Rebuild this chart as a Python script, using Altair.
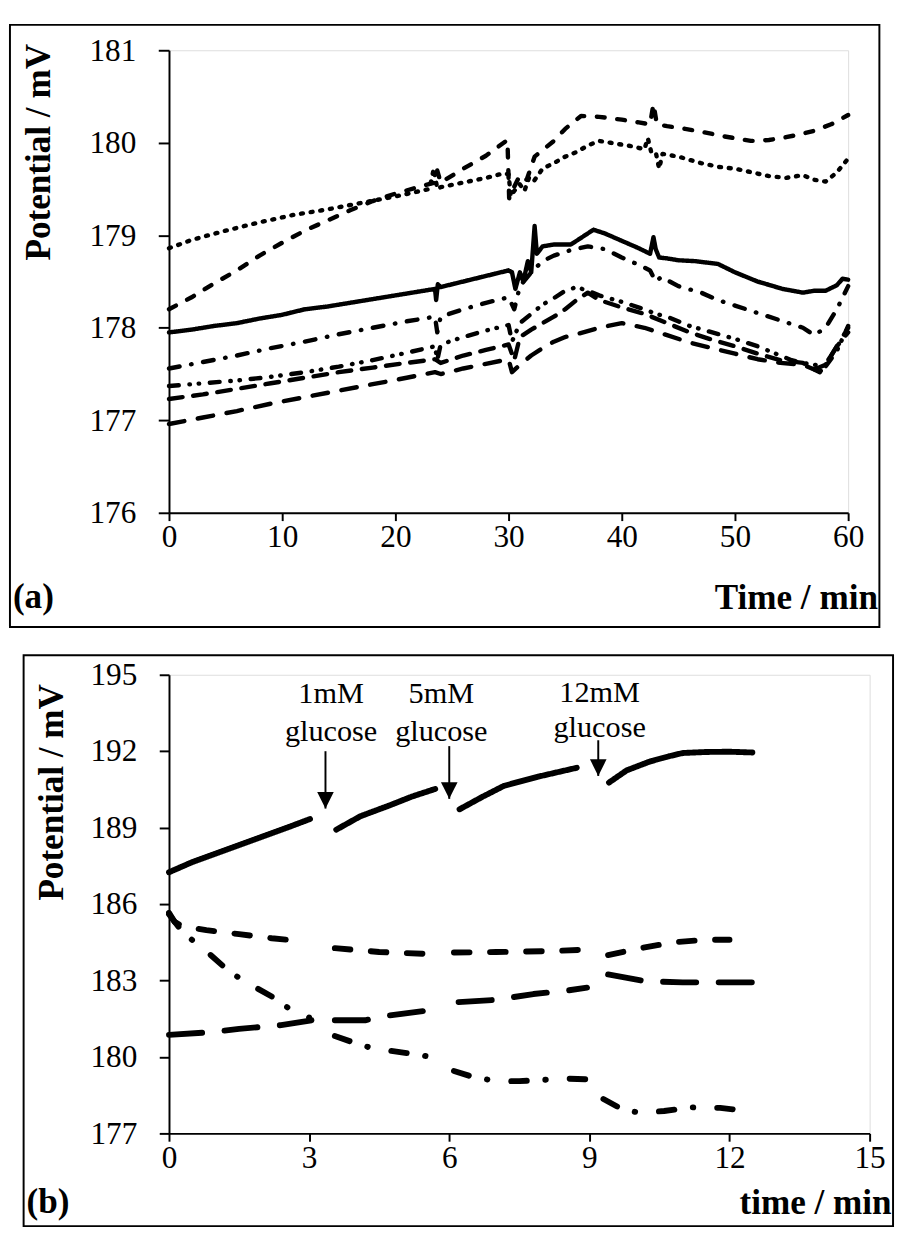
import altair as alt
import pandas as pd

FONT = "Liberation Serif"

# ---------------- panel (a) data ----------------
A_x = [0,2,5,8,11,14,17,20,23,23.4,23.7,24,26,28,29.6,30,30.2,30.5,31,31.4,31.8,32.2,33,34,35,36,37,38,39,40,41,42,42.3,42.6,43,43.3,43.6,45,47,48.5,50,51.5,53,54.5,56,57,58,59,60]
A_y = [178.86,178.95,179.05,179.14,179.22,179.28,179.35,179.42,179.5,179.72,179.5,179.52,179.57,179.62,179.67,179.66,179.42,179.48,179.55,179.48,179.62,179.58,179.72,179.78,179.85,179.9,179.97,180.02,180.0,179.98,179.96,179.93,180.05,179.9,179.9,179.72,179.88,179.85,179.78,179.74,179.72,179.68,179.64,179.62,179.65,179.6,179.58,179.68,179.83]

B_x = [0,2,4,6,8,10,12,14,16,18,20,22,23.5,23.7,24,26,28,29.9,30.05,30.4,31,31.6,32.3,33,34,35,36.4,38,40,41.5,42.5,42.8,43.1,44,45.6,47,49,51.4,53,54.5,55.7,57,58.5,60]
B_y = [178.2,178.33,178.48,178.62,178.78,178.92,179.05,179.16,179.27,179.37,179.45,179.52,179.57,179.7,179.57,179.72,179.86,180.03,179.4,179.5,179.65,179.6,179.85,179.92,180.02,180.15,180.29,180.28,180.25,180.22,180.2,180.42,180.2,180.18,180.15,180.12,180.07,180.02,180.03,180.06,180.09,180.13,180.2,180.3]

C_x = [0,2,4,6,8,10,12,14,16,18,20,22,23.5,23.6,23.75,24,26,28,30,30.3,30.6,31,31.3,31.7,32,32.3,32.5,33,34,35.5,36.5,37.5,38.5,40,41.5,42.5,42.8,43,43.3,44,45,46.5,48.5,50,52,54.2,56,57,58,59,59.5,60]
C_y = [177.95,177.98,178.02,178.05,178.1,178.14,178.2,178.23,178.27,178.31,178.35,178.39,178.42,178.3,178.47,178.44,178.5,178.56,178.62,178.6,178.42,178.6,178.5,178.72,178.6,179.1,178.8,178.88,178.9,178.9,178.98,179.06,179.02,178.94,178.86,178.8,178.98,178.85,178.76,178.75,178.73,178.72,178.69,178.6,178.5,178.42,178.38,178.4,178.4,178.46,178.53,178.52]

D_x = [0,3,6,9,12,15,18,21,23.5,23.7,24,26,28,30,30.5,31,32,33,34,35.5,37,38.5,40,41.5,42.5,43,43.5,45,47,48.5,50,52,54,56,57,58,59,60]
D_y = [177.56,177.63,177.7,177.78,177.85,177.93,178.0,178.07,178.12,177.95,178.12,178.2,178.27,178.33,178.2,178.45,178.6,178.72,178.78,178.84,178.88,178.85,178.76,178.68,178.62,178.5,178.55,178.45,178.38,178.3,178.24,178.16,178.08,178.0,177.92,178.0,178.2,178.45]

E_x = [0,3,6,9,12,15,18,21,23.5,23.7,24,26,28,30,30.3,31,32,33,34,35,36,37,38,40,42,43,44,46,48,50,52,54,55,56,57,58,59,60]
E_y = [177.37,177.4,177.43,177.47,177.52,177.58,177.65,177.73,177.8,177.65,177.82,177.9,177.97,178.03,177.85,178.05,178.15,178.25,178.32,178.4,178.44,178.4,178.35,178.28,178.2,178.15,178.12,178.02,177.95,177.88,177.8,177.7,177.65,177.62,177.6,177.58,177.75,178.02]

F_x = [0,3,6,9,12,15,18,21,23.5,24,26,28,30,30.5,31,32,33,34,35,36,37,38,40,42,44,46,48,50,52,54,56,57,58,59,60]
F_y = [177.23,177.28,177.34,177.4,177.46,177.52,177.57,177.62,177.66,177.62,177.7,177.76,177.82,177.65,177.9,177.98,178.05,178.12,178.2,178.3,178.38,178.3,178.22,178.15,178.05,177.95,177.87,177.8,177.72,177.65,177.62,177.55,177.6,177.8,177.95]

G_x = [0,3,6,9,12,15,18,21,23.5,24,26,28,30,30.3,31,32,33,34,35,36,38,40,42,44,46,48,50,52,54,56,57,57.5,58.5,60]
G_y = [176.96,177.03,177.1,177.18,177.25,177.32,177.39,177.46,177.52,177.5,177.56,177.61,177.66,177.52,177.6,177.7,177.78,177.85,177.9,177.93,178.0,178.05,178.0,177.92,177.84,177.78,177.72,177.66,177.62,177.6,177.55,177.52,177.7,178.0]

A_ticks_x = [0, 10, 20, 30, 40, 50, 60]
A_ticks_y = [176, 177, 178, 179, 180, 181]

# ---------------- panel (b) data ----------------
S1_x = [0, 0.5, 1.25, 2.0, 2.6, 3.02];         S1_y = [187.25, 187.65, 188.15, 188.65, 189.05, 189.34]
S2_x = [3.58, 4.1, 4.73, 5.2, 5.7];            S2_y = [188.92, 189.45, 189.88, 190.22, 190.52]
S3_x = [6.22, 6.7, 7.17, 7.9, 8.73];           S3_y = [189.72, 190.2, 190.64, 191.0, 191.35]
S4_x = [9.42, 9.8, 10.3, 10.7, 11.0, 11.5, 12.0, 12.49]
S4_y = [190.77, 191.25, 191.6, 191.8, 191.93, 191.97, 191.98, 191.95]

U1_x = [0, 0.12, 0.3, 0.8, 1.5, 2.2, 2.8];     U1_y = [185.66, 185.3, 185.12, 184.98, 184.82, 184.66, 184.55]
U2_x = [3.55, 4.5, 5.6];                       U2_y = [184.27, 184.12, 184.04]
U3_x = [6.1, 7.0, 8.0, 8.8];                   U3_y = [184.1, 184.12, 184.15, 184.2]
U4_x = [9.4, 10.1, 10.8, 11.5, 12.0];          U4_y = [184.0, 184.27, 184.5, 184.6, 184.6]

L1_x = [0, 0.9, 1.5, 2.4, 3.05];               L1_y = [180.87, 180.97, 181.1, 181.25, 181.44]
L2_x = [3.55, 4.2, 4.6, 5.35, 5.9];            L2_y = [181.44, 181.44, 181.6, 181.78, 181.9]
L3_x = [6.2, 6.96, 7.37, 7.8, 8.5, 8.95];      L3_y = [182.15, 182.24, 182.35, 182.47, 182.6, 182.72]
L4_x = [9.4, 10.2, 11.0, 11.8, 12.5];          L4_y = [183.24, 182.97, 182.93, 182.93, 182.93]

DD1_x = [0, 0.25, 0.52, 0.83, 1.17, 1.48, 1.84, 2.22, 2.55, 3.0]
DD1_y = [185.6, 185.0, 184.55, 184.1, 183.55, 183.13, 182.74, 182.35, 181.93, 181.55]
DD2_x = [3.55, 3.9, 4.3, 4.7, 5.1, 5.8];       DD2_y = [180.82, 180.6, 180.37, 180.25, 180.15, 179.95]
DD3_x = [6.1, 6.5, 7.0, 7.5, 8.0, 8.5, 9.0];   DD3_y = [179.45, 179.22, 179.05, 179.05, 179.1, 179.15, 179.12]
DD4_x = [9.3, 9.7, 10.1, 10.6, 11.2, 11.8, 12.4]
DD4_y = [178.35, 177.95, 177.8, 177.88, 178.02, 178.0, 177.88]

B_ticks_x = [0, 3, 6, 9, 12, 15]
B_ticks_y = [177, 180, 183, 186, 189, 192, 195]

arrow_x = [3.35, 6.0, 9.19]
arrow_top = [192.0, 192.2, 192.43]
arrow_tip = [189.75, 190.13, 191.03]
ann_x = [3.47, 5.83, 9.22]
ann_line1 = ["1mM", "5mM", "12mM"]
ann_line2 = ["glucose", "glucose", "glucose"]
ann_y1 = [194.23, 194.23, 194.28]
ann_y2 = [192.75, 192.75, 192.9]

# ---------------- build tables ----------------
def table(series):
    recs = []
    for style, seg, xs, ys in series:
        assert len(xs) == len(ys), seg
        for i, (x, y) in enumerate(zip(xs, ys)):
            recs.append({"style": style, "seg": seg, "x": x, "y": y, "i": i})
    return pd.DataFrame(recs)

df_a = table([
    ("A", "A", A_x, A_y), ("B", "B", B_x, B_y), ("C", "C", C_x, C_y),
    ("D", "D", D_x, D_y), ("E", "E", E_x, E_y), ("F", "F", F_x, F_y),
    ("G", "G", G_x, G_y),
])
df_b = table([
    ("solid", "S1", S1_x, S1_y), ("solid", "S2", S2_x, S2_y),
    ("solid", "S3", S3_x, S3_y), ("solid", "S4", S4_x, S4_y),
    ("short", "U1", U1_x, U1_y), ("short", "U2", U2_x, U2_y),
    ("short", "U3", U3_x, U3_y), ("short", "U4", U4_x, U4_y),
    ("long", "L1", L1_x, L1_y), ("long", "L2", L2_x, L2_y),
    ("long", "L3", L3_x, L3_y), ("long", "L4", L4_x, L4_y),
    ("dashdot", "DD1", DD1_x, DD1_y), ("dashdot", "DD2", DD2_x, DD2_y),
    ("dashdot", "DD3", DD3_x, DD3_y), ("dashdot", "DD4", DD4_x, DD4_y),
])
df_arrow = pd.DataFrame({"x": arrow_x, "top": arrow_top, "tip": arrow_tip})
df_ann = pd.DataFrame({"x": ann_x, "l1": ann_line1, "l2": ann_line2, "y1": ann_y1, "y2": ann_y2})
one = pd.DataFrame({"k": [0]})

# ---------------- common axis style ----------------
def axis(values, title, **kw):
    base = dict(values=values, title=title, grid=False, labelFont=FONT, labelFontSize=32,
                labelColor="black", tickColor="black", domainColor="black", domainWidth=2,
                tickWidth=2, titleFont=FONT, titleFontSize=36, titleFontWeight="bold",
                titleColor="black", labelFlush=False, labelOverlap=False, format="d")
    base.update(kw)
    return alt.Axis(**base)

# ---------------- panel (a) ----------------
WA, HA = 696, 474
xa = alt.X("x:Q", scale=alt.Scale(domain=[0, 60], nice=False, zero=False),
           axis=axis(A_ticks_x, "Time / min", tickSize=8, labelPadding=2,
                     titleX=726, titleY=87, titleAlign="right", titleBaseline="middle",
                     titleAngle=0))
ya = alt.Y("y:Q", scale=alt.Scale(domain=[176, 181], nice=False, zero=False),
           axis=axis(A_ticks_y, "Potential / mV", tickSize=11, labelPadding=23,
                     titleX=-133, titleY=104, titleAlign="center", titleBaseline="middle",
                     titleAngle=270))

lines_a = alt.Chart(df_a).mark_line(color="black", strokeWidth=4.5, strokeCap="round",
                                    strokeJoin="round").encode(
    x=xa, y=ya, detail="seg:N", order="i:Q",
    strokeDash=alt.StrokeDash("style:N", legend=None, scale=alt.Scale(
        domain=["A", "B", "C", "D", "E", "F", "G"],
        range=[[2, 8], [8, 13], [1, 0], [11, 12, 0.5, 12], [10, 11, 0.5, 9, 0.5, 11],
               [14, 11], [16, 14]])),
)
frame_a = alt.Chart(one).mark_rect(fill="white", fillOpacity=0, stroke="black",
                                   strokeWidth=2).encode(
    x=alt.value(-163), x2=alt.value(728), y=alt.value(-26), y2=alt.value(HA + 117))
lab_a = alt.Chart(one).mark_text(font=FONT, fontSize=36, fontWeight="bold", align="left",
                                 baseline="middle", color="black").encode(
    x=alt.value(-160), y=alt.value(HA + 87), text=alt.value("(a)"))
panel_a = alt.layer(frame_a, lines_a, lab_a).properties(width=WA, height=HA)

# ---------------- panel (b) ----------------
WB, HB = 718, 470
xb = alt.X("x:Q", scale=alt.Scale(domain=[0, 15], nice=False, zero=False),
           axis=axis(B_ticks_x, "time / min", tickSize=8, labelPadding=2,
                     titleX=740, titleY=71, titleAlign="right", titleBaseline="middle",
                     titleAngle=0))
yb = alt.Y("y:Q", scale=alt.Scale(domain=[177, 195], nice=False, zero=False),
           axis=axis(B_ticks_y, "Potential / mV", tickSize=10, labelPadding=23,
                     titleX=-120, titleY=120, titleAlign="center", titleBaseline="middle",
                     titleAngle=270))

lines_b = alt.Chart(df_b).mark_line(color="black", strokeWidth=6, strokeCap="round",
                                    strokeJoin="round").encode(
    x=xb, y=yb, detail="seg:N", order="i:Q",
    strokeDash=alt.StrokeDash("style:N", legend=None, scale=alt.Scale(
        domain=["solid", "short", "long", "dashdot"],
        range=[[1, 0], [16, 21], [34, 23], [16, 19, 0.5, 24.5]])),
)
shafts = alt.Chart(df_arrow).mark_rule(color="black", strokeWidth=2).encode(
    x="x:Q", y="top:Q", y2="tip:Q")
heads = alt.Chart(df_arrow).mark_point(shape="M-0.5,-1L0.5,-1L0,0Z", filled=True,
                                       color="black", opacity=1, size=1156).encode(
    x="x:Q", y="tip:Q")
ann1 = alt.Chart(df_ann).mark_text(font=FONT, fontSize=31, color="black",
                                   baseline="middle").encode(x="x:Q", y="y1:Q", text="l1:N")
ann2 = alt.Chart(df_ann).mark_text(font=FONT, fontSize=31, color="black",
                                   baseline="middle").encode(x="x:Q", y="y2:Q", text="l2:N")
frame_b = alt.Chart(one).mark_rect(fill="white", fillOpacity=0, stroke="black",
                                   strokeWidth=2).encode(
    x=alt.value(-149), x2=alt.value(742), y=alt.value(-20), y2=alt.value(HB + 95))
lab_b = alt.Chart(one).mark_text(font=FONT, fontSize=36, fontWeight="bold", align="left",
                                 baseline="middle", color="black").encode(
    x=alt.value(-146), y=alt.value(HB + 71), text=alt.value("(b)"))
panel_b = alt.layer(frame_b, lines_b, shafts, heads, ann1, ann2, lab_b).properties(
    width=WB, height=HB)

chart = (alt.vconcat(panel_a, panel_b, spacing=25)
         .resolve_scale(strokeDash="independent")
         .properties(padding=0)
         .configure_view(stroke="black", strokeWidth=2)
         .configure(background="white"))

chart.save("out.html", embed_options={"renderer": "svg", "actions": False})
